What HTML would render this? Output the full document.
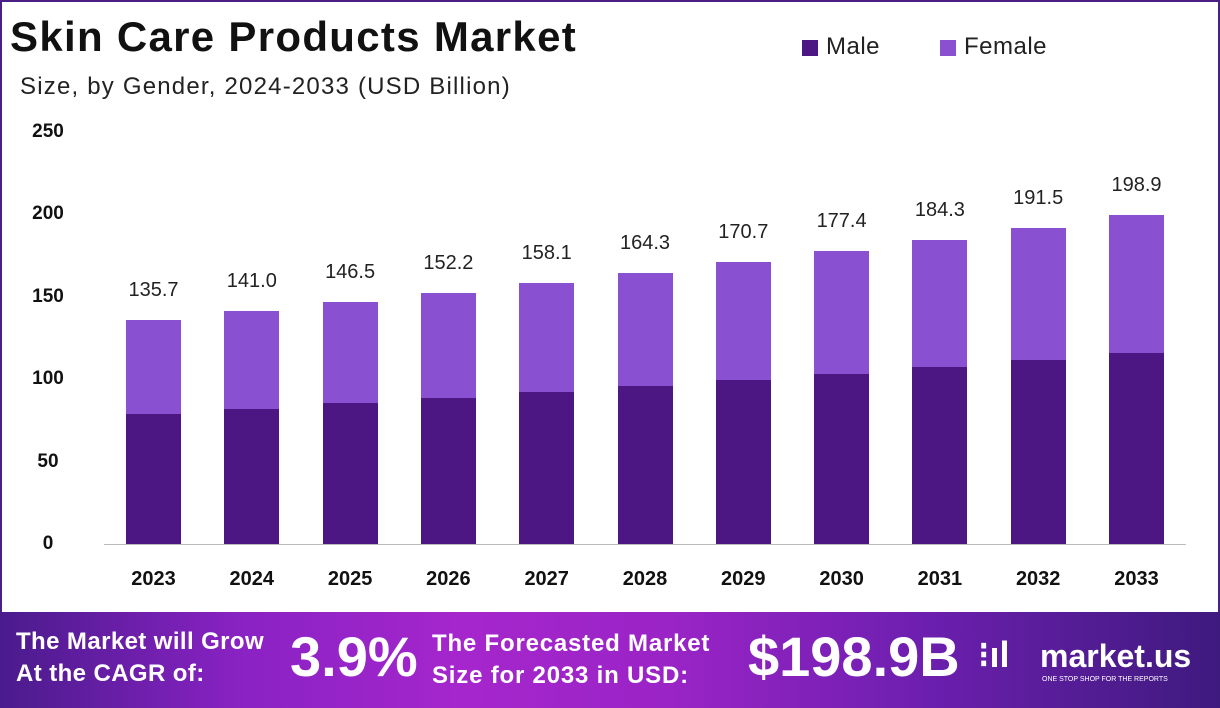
<!DOCTYPE html>
<html><head><meta charset="utf-8"><style>
body{margin:0;width:1220px;height:708px;overflow:hidden;background:#fff;font-family:"Liberation Sans",sans-serif;position:relative}
.frame{position:absolute;left:0;top:0;width:1216px;height:610px;border:2px solid #4b1f86;border-bottom:none}
.t{position:absolute;white-space:nowrap}
.bar{position:absolute;width:55px}
.m{background:#4c1782}
.f{background:#8a50d2}
.v{position:absolute;width:100px;text-align:center;font-size:20px;color:#222}
.yr{position:absolute;width:100px;text-align:center;font-size:20px;font-weight:bold;color:#111;top:568px}
.yl{position:absolute;left:20px;width:56px;text-align:center;font-size:19px;font-weight:bold;color:#111}
.banner{position:absolute;left:0;top:612px;width:1220px;height:96px;background:linear-gradient(90deg,#4a1b8c 0%,#8a22c4 20%,#a526cc 38%,#9a24c6 55%,#6e1fb0 75%,#3e1a7e 100%)}
.bt{position:absolute;color:#fff;font-weight:bold;white-space:nowrap}
</style></head><body>
<div class="frame"></div>
<div class="t" style="left:10px;top:13px;font-size:42px;font-weight:bold;color:#111;letter-spacing:1.3px">Skin Care Products Market</div>
<div class="t" style="left:20px;top:73px;font-size:24px;color:#222;letter-spacing:1.2px">Size, by Gender, 2024-2033 (USD Billion)</div>
<div style="position:absolute;left:802px;top:40px;width:16px;height:16px;background:#4c1782"></div>
<div class="t" style="left:826px;top:33px;font-size:24px;color:#222;letter-spacing:0.5px">Male</div>
<div style="position:absolute;left:940px;top:40px;width:16px;height:16px;background:#8a50d2"></div>
<div class="t" style="left:964px;top:33px;font-size:24px;color:#222;letter-spacing:0.5px">Female</div>
<div class="yl" style="top:121px">250</div>
<div class="yl" style="top:203px">200</div>
<div class="yl" style="top:286px">150</div>
<div class="yl" style="top:368px">100</div>
<div class="yl" style="top:451px">50</div>
<div class="yl" style="top:533px">0</div>
<div style="position:absolute;left:104px;top:544px;width:1082px;height:1px;background:#bbb"></div>
<div id="bars"></div>
<script>
var tot=[135.7,141.0,146.5,152.2,158.1,164.3,170.7,177.4,184.3,191.5,198.9];
var male=[78.7,81.7,85.4,88.4,92,95.6,99.3,102.9,107.1,111.4,115.6];
var h='';
for(var i=0;i<11;i++){var x=126+i*98.3;var s=1.652;var mt=544-male[i]*s,tt=544-tot[i]*s;
h+='<div class="bar f" style="left:'+x+'px;top:'+tt+'px;height:'+(mt-tt)+'px"></div>';
h+='<div class="bar m" style="left:'+x+'px;top:'+mt+'px;height:'+(544-mt)+'px"></div>';
h+='<div class="v" style="left:'+(x-22.5)+'px;top:'+(tt-41)+'px">'+tot[i].toFixed(1)+'</div>';
h+='<div class="yr" style="left:'+(x-22.5)+'px">'+(2023+i)+'</div>';}
document.getElementById('bars').innerHTML=h;
</script>
<div class="banner">
<div class="bt" style="left:16px;top:14px;font-size:24px;line-height:32px;letter-spacing:0.4px">The Market will Grow<br>At the CAGR of:</div>
<div class="bt" style="left:290px;top:12px;font-size:56px">3.9%</div>
<div class="bt" style="left:432px;top:16px;font-size:24px;line-height:32px;letter-spacing:0.8px">The Forecasted Market<br>Size for 2033 in USD:</div>
<div class="bt" style="left:748px;top:12px;font-size:56px">$198.9B</div>
<div class="bt" style="left:978px;top:22px;font-size:36px">⁝ıl</div>
<div class="bt" style="left:1040px;top:26px;font-size:32px">market.us</div>
<div class="bt" style="left:1042px;top:64px;font-size:7px;font-weight:normal">ONE STOP SHOP FOR THE REPORTS</div>
</div>
</body></html>
